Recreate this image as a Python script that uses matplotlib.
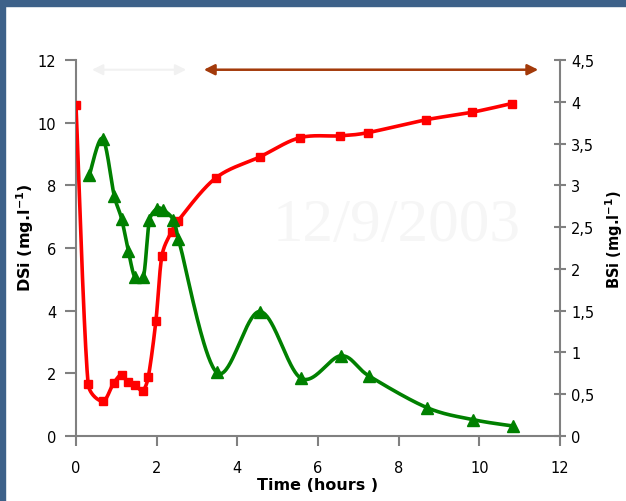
import numpy as np
import matplotlib
matplotlib.use("Agg")
import matplotlib.pyplot as plt
from matplotlib.patches import Rectangle

# Dissolved silica (left axis, mg/l) and biogenic silica (right axis, mg/l)
dsi_time = [0.0, 0.30, 0.66, 0.93, 1.13, 1.28, 1.46, 1.65, 1.79, 1.98, 2.13,
            2.37, 2.52, 3.46, 4.56, 5.55, 6.55, 7.23, 8.67, 9.81, 10.80]
dsi_vals = [10.55, 1.67, 1.11, 1.68, 1.96, 1.71, 1.64, 1.45, 1.87, 3.66, 5.75,
            6.52, 6.85, 8.23, 8.91, 9.52, 9.58, 9.68, 10.09, 10.33, 10.61]

bsi_time = [0.33, 0.66, 0.95, 1.13, 1.30, 1.46, 1.67, 1.82, 2.00, 2.15, 2.41,
            2.54, 3.49, 4.56, 5.58, 6.57, 7.26, 8.70, 9.85, 10.83]
bsi_vals = [3.12, 3.56, 2.87, 2.60, 2.21, 1.90, 1.90, 2.58, 2.72, 2.71, 2.59,
            2.36, 0.76, 1.49, 0.69, 0.96, 0.72, 0.34, 0.195, 0.12]

x_ticks = [0, 2, 4, 6, 8, 10, 12]
left_ticks = [0, 2, 4, 6, 8, 10, 12]
right_ticks = [0, 0.5, 1, 1.5, 2, 2.5, 3, 3.5, 4, 4.5]
right_tick_labels = ["0", "0,5", "1", "1,5", "2", "2,5", "3", "3,5", "4", "4,5"]

# Period markers along the top of the plot (hours)
light_period = (0.4, 2.73)
dark_period = (3.17, 11.46)


def smooth(x, y, sx, sy, n=40, clamp=0.45):
    """Smoothed line through the points: Catmull-Rom style Bezier handles,
    each limited to a fraction of its own segment so short steps do not
    overshoot. Computed in screen-like units (sx, sy = pixels per unit)."""
    p = np.column_stack([np.asarray(x) * sx, np.asarray(y) * sy]).astype(float)
    m = len(p)
    tang = np.zeros_like(p)
    for i in range(m):
        tang[i] = (p[min(i + 1, m - 1)] - p[max(i - 1, 0)]) / 2.0

    def handle(v, L):
        h = v / 3.0
        n_ = np.linalg.norm(h)
        lim = clamp * L
        return h * (lim / n_) if n_ > lim else h

    t = np.linspace(0, 1, n, endpoint=False)[:, None]
    out = []
    for i in range(m - 1):
        L = np.linalg.norm(p[i + 1] - p[i])
        c0 = p[i]
        c1 = p[i] + handle(tang[i], L)
        c2 = p[i + 1] - handle(tang[i + 1], L)
        c3 = p[i + 1]
        seg = ((1 - t) ** 3 * c0 + 3 * (1 - t) ** 2 * t * c1 +
               3 * (1 - t) * t ** 2 * c2 + t ** 3 * c3)
        out.append(seg)
    out.append(p[-1][None, :])
    c = np.vstack(out)
    return c[:, 0] / sx, c[:, 1] / sy


fig = plt.figure(figsize=(6.26, 5.02), dpi=100)
fig.patch.set_facecolor("white")

# slide frame
frame = "#3d6189"
fig.patches.append(Rectangle((0, 0), 5 / 626, 1, transform=fig.transFigure,
                             color=frame, zorder=0))
fig.patches.append(Rectangle((0, 1 - 7 / 502), 1, 7 / 502, transform=fig.transFigure,
                             color=frame, zorder=0))

ax = fig.add_axes([76 / 626, 1 - 437 / 502, (560 - 76) / 626, (437 - 61) / 502])
ax2 = ax.twinx()

ax.set_xlim(0, 12)
ax.set_ylim(0, 12)
ax2.set_ylim(0, 4.5)

px_x = (560 - 76) / 12.0
px_left = (437 - 61) / 12.0
px_right = (437 - 61) / 4.5

# watermark date
ax.text(7.96, 6.72, "12/9/2003", fontsize=44, family="Liberation Serif",
        color="#f6f6f6", ha="center", va="center", zorder=0)

sx, sy = smooth(dsi_time, dsi_vals, px_x, px_left)
ax.plot(sx, sy, color="#ff0000", lw=2.6, solid_capstyle="round", zorder=3)
ax.plot(dsi_time, dsi_vals, ls="none", marker="s", ms=6, color="#ff0000", zorder=4)

gx, gy = smooth(bsi_time, bsi_vals, px_x, px_right)
ax2.plot(gx, gy, color="#008000", lw=2.6, solid_capstyle="round", zorder=3)
ax2.plot(bsi_time, bsi_vals, ls="none", marker="^", ms=8, color="#008000", zorder=4)

# period arrows
arrow_y = 11.69
ax.annotate("", xy=(light_period[1], arrow_y), xytext=(light_period[0], arrow_y),
            arrowprops=dict(arrowstyle="<|-|>", color="#f1f1f1", lw=1.5,
                            mutation_scale=16, shrinkA=0, shrinkB=0),
            annotation_clip=False)
ax.annotate("", xy=(dark_period[1], arrow_y), xytext=(dark_period[0], arrow_y),
            arrowprops=dict(arrowstyle="<|-|>", color="#a33a0a", lw=1.8,
                            mutation_scale=16, shrinkA=0, shrinkB=0),
            annotation_clip=False)

spine_c = "#808080"
for a in (ax, ax2):
    a.spines["top"].set_visible(False)
    for s in ("left", "right", "bottom"):
        a.spines[s].set_color(spine_c)
        a.spines[s].set_linewidth(1.5)
ax.spines["right"].set_visible(False)
ax2.spines["left"].set_visible(False)
ax2.spines["bottom"].set_visible(False)

ax.set_xticks(x_ticks)
ax.set_yticks(left_ticks)
ax2.set_yticks(right_ticks)
ax2.set_yticklabels(right_tick_labels)

ax.tick_params(axis="x", direction="out", length=7, width=1.5, color=spine_c,
               labelsize=10.5, pad=10)
ax.tick_params(axis="y", direction="out", length=8, width=1.5, color=spine_c,
               labelsize=10.5, pad=6)
ax2.tick_params(axis="y", direction="inout", length=8, width=1.5, color=spine_c,
                labelsize=10.5, pad=4)

ax.set_xlabel("Time (hours )", fontsize=11.5, fontweight="bold", labelpad=2)
fig.text(25 / 626, 1 - 238 / 502, r"DSi (mg.l$^{\mathbf{-1}}$)", rotation=90,
         fontsize=11.5, fontweight="bold", ha="center", va="center")
fig.text(614 / 626, 1 - 240 / 502, r"BSi (mg.l$^{\mathbf{-1}}$)", rotation=90,
         fontsize=10.5, fontweight="bold", ha="center", va="center")

fig.savefig("out.png", dpi=100)
